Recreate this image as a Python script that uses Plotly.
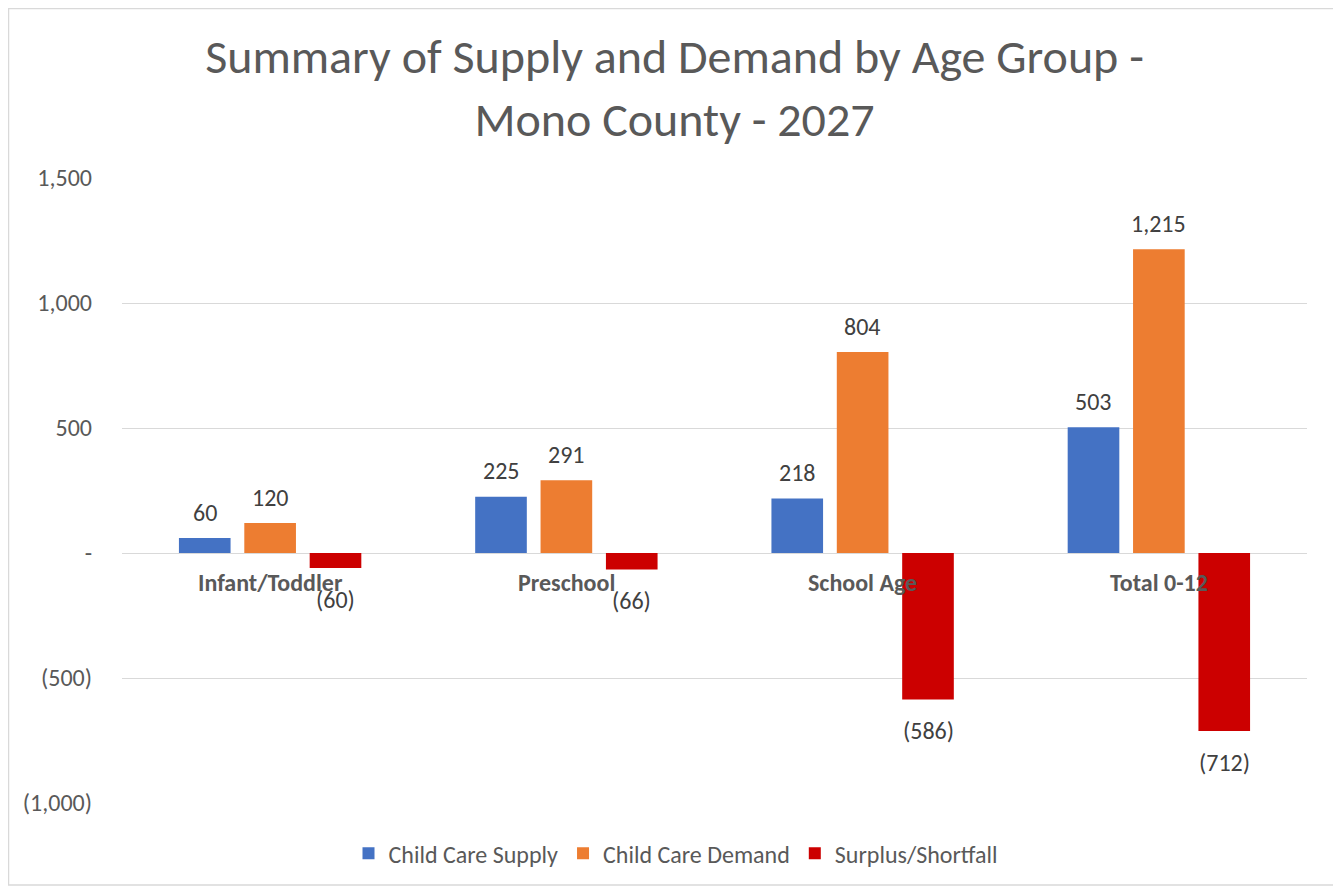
import plotly.graph_objects as go

categories = ["Infant/Toddler", "Preschool", "School Age", "Total 0-12"]
supply = [60, 225, 218, 503]
demand = [120, 291, 804, 1215]
surplus = [-60, -66, -586, -712]
series_names = ["Child Care Supply", "Child Care Demand", "Surplus/Shortfall"]
colors = ["#4472C4", "#ED7D31", "#CC0000"]
tick_vals = [1500, 1000, 500, 0, -500, -1000]
tick_text = ["1,500", "1,000", "500", "-", "(500)", "(1,000)"]

def fmt(v):
    s = f"{abs(v):,}"
    return f"({s})" if v < 0 else s

FONT = "Carlito, Calibri, Noto Sans, sans-serif"
W, H = 1333, 882
ML, MR, MT, MB = 114, 34, 170, 87
PW, PH = W - ML - MR, H - MT - MB

fig = go.Figure()
all_series = [supply, demand, surplus]
for name, vals, col in zip(series_names, all_series, colors):
    fig.add_trace(go.Bar(name=name, x=categories, y=vals, marker_color=col,
                         marker_line_width=0))

bargap = 0.338
slot = (1 - bargap) / 3
annotations = []
for k, vals in enumerate(all_series):
    off = (k - 1) * slot
    for i, v in enumerate(vals):
        annotations.append(dict(x=i + off, y=v, xref="x", yref="y", text=fmt(v),
                                showarrow=False, yanchor="middle",
                                yshift=26 if v >= 0 else -31,
                                font=dict(size=24, color="#404040", family=FONT)))
for i, c in enumerate(categories):
    annotations.append(dict(x=i, y=0, xref="x", yref="y", text=f"<b>{c}</b>",
                            showarrow=False, yanchor="middle", yshift=-29,
                            font=dict(size=24, color="#595959", family=FONT)))

fig.update_layout(
    width=W, height=H,
    margin=dict(l=ML, r=MR, t=MT, b=MB, autoexpand=False),
    paper_bgcolor="white", plot_bgcolor="white",
    font=dict(family=FONT, color="#595959"),
    title=dict(text="Summary of Supply and Demand by Age Group -<br>Mono County - 2027",
               x=0.5, xref="container", xanchor="center", y=0.926, yanchor="top",
               font=dict(size=48, color="#595959", family=FONT)),
    barmode="group", bargap=bargap, bargroupgap=0.21,
    xaxis=dict(showticklabels=False, showgrid=False, zeroline=False, showline=False,
               range=[-0.5, 3.5]),
    yaxis=dict(range=[-1000, 1500], tickvals=tick_vals, ticktext=tick_text,
               showgrid=True, gridcolor="#D9D9D9", gridwidth=1.3,
               zeroline=True, zerolinecolor="#D9D9D9", zerolinewidth=1.3,
               tickfont=dict(size=24, color="#595959", family=FONT),
               ticklabelstandoff=29),
    legend=dict(orientation="h", x=(676 - 8 - ML) / PW, xanchor="center",
                y=-0.045, yanchor="top",
                font=dict(size=24, color="#595959", family=FONT),
                itemwidth=30, traceorder="normal"),
    annotations=annotations,
    shapes=[dict(type="rect", xref="paper", yref="paper",
                 x0=(0.5 - ML) / PW, x1=(1327 - ML) / PW,
                 y0=(MT + PH - 877) / PH, y1=(MT + PH - 0.5) / PH,
                 line=dict(color="#D9D9D9", width=1.5), layer="below")],
)
fig.write_html("out.html")
